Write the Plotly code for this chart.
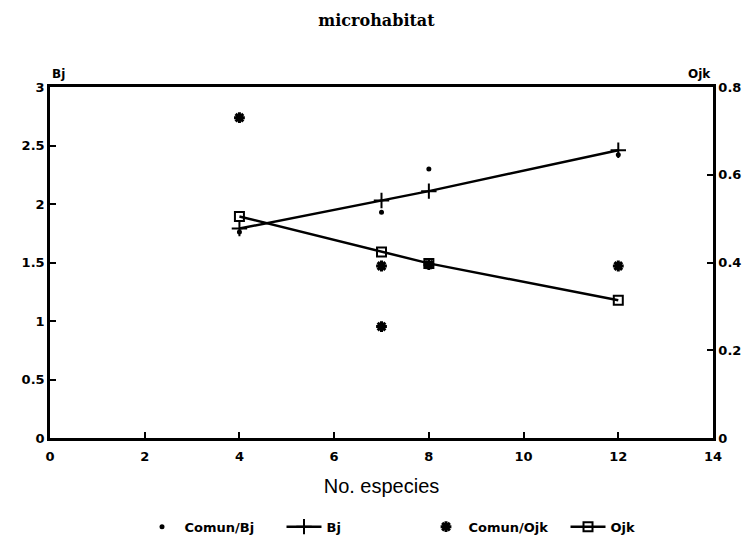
import plotly.graph_objects as go

x_species = [4, 7, 8, 12]
bj_fit = [1.79, 2.03, 2.11, 2.46]
comun_bj_x = [4, 7, 8, 12]
comun_bj = [1.76, 1.93, 2.30, 2.42]
ojk_fit = [0.505, 0.424, 0.398, 0.314]
comun_ojk_x = [4, 7, 7, 8, 12]
comun_ojk = [0.73, 0.392, 0.254, 0.395, 0.392]

x_ticks = [0, 2, 4, 6, 8, 10, 12, 14]
bj_ticks = [0, 0.5, 1, 1.5, 2, 2.5, 3]
bj_tick_labels = ["0", "0.5", "1", "1.5", "2", "2.5", "3"]
ojk_ticks = [0, 0.2, 0.4, 0.6, 0.8]
ojk_tick_labels = ["0", "0.2", "0.4", "0.6", "0.8"]

BOLD = dict(family="DejaVu Sans", size=13, color="black", weight="bold")

fig = go.Figure()
fig.add_trace(go.Scatter(
    x=comun_bj_x, y=comun_bj, mode="markers", name="Comun/Bj",
    marker=dict(symbol="circle", size=5, color="black"), yaxis="y"))
fig.add_trace(go.Scatter(
    x=x_species, y=bj_fit, mode="lines+markers", name="Bj",
    line=dict(color="black", width=2.5),
    marker=dict(symbol="cross-thin", size=11, color="black",
                line=dict(color="black", width=2)), yaxis="y"))
fig.add_trace(go.Scatter(
    x=comun_ojk_x, y=comun_ojk, mode="markers", name="Comun/Ojk",
    marker=dict(symbol="asterisk-open", size=9, color="black",
                line=dict(color="black", width=3)), yaxis="y2"))
fig.add_trace(go.Scatter(
    x=x_species, y=ojk_fit, mode="lines+markers", name="Ojk",
    line=dict(color="black", width=2.5),
    marker=dict(symbol="square-open", size=9, color="black",
                line=dict(color="black", width=2)), yaxis="y2"))

fig.update_layout(
    width=753, height=554,
    margin=dict(l=50, r=40, t=87, b=113),
    paper_bgcolor="white", plot_bgcolor="white",
    font=BOLD,
    title=dict(text="<b>microhabitat</b>", x=0.5, xanchor="center",
               y=0.964, yanchor="middle",
               font=dict(family="DejaVu Serif", size=16, color="black")),
    xaxis=dict(range=[0, 14], tickvals=x_ticks, ticktext=[str(v) for v in x_ticks],
               ticks="inside", ticklen=6, tickwidth=2, tickcolor="black",
               ticklabelstandoff=5,
               showline=True, linecolor="black", linewidth=2.5, mirror=True,
               showgrid=False, zeroline=False, tickfont=BOLD,
               title=dict(text="No. especies", standoff=16,
                          font=dict(family="Liberation Sans", size=20,
                                    color="black", weight="normal"))),
    yaxis=dict(range=[0, 3], tickvals=bj_ticks, ticktext=bj_tick_labels,
               ticks="inside", ticklen=6, tickwidth=2, tickcolor="black",
               showline=True, linecolor="black", linewidth=2.5,
               showgrid=False, zeroline=False, tickfont=BOLD),
    yaxis2=dict(range=[0, 0.8], tickvals=ojk_ticks, ticktext=ojk_tick_labels,
                overlaying="y", side="right",
                ticks="inside", ticklen=6, tickwidth=2, tickcolor="black",
                showline=True, linecolor="black", linewidth=2.5,
                showgrid=False, zeroline=False, tickfont=BOLD),
    legend=dict(orientation="h", x=0.135, xanchor="left", y=-0.21, yanchor="top",
                entrywidth=92, itemwidth=35, font=BOLD),
    showlegend=True,
)
fig.add_annotation(text="Bj", x=0, xref="paper", y=1, yref="paper",
                   xanchor="left", yanchor="bottom", yshift=4, showarrow=False,
                   font=dict(family="DejaVu Sans", size=12, color="black", weight="bold"))
fig.add_annotation(text="Ojk", x=1, xref="paper", y=1, yref="paper",
                   xanchor="right", yanchor="bottom", yshift=4, showarrow=False,
                   font=dict(family="DejaVu Sans", size=12, color="black", weight="bold"))

fig.write_html("out.html", config={"displayModeBar": False},
               post_script="document.body.style.margin='0';document.body.style.overflow='hidden';")
